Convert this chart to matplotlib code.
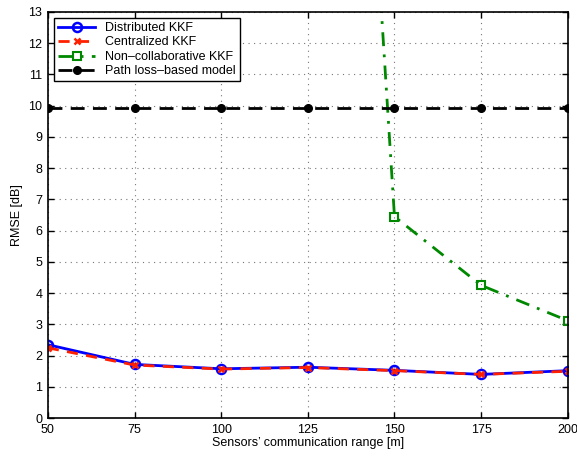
import matplotlib
matplotlib.use("Agg")
import matplotlib.pyplot as plt

# data
ranges = [50, 75, 100, 125, 150, 175, 200]
distributed = [2.35, 1.72, 1.58, 1.63, 1.53, 1.40, 1.52]
centralized = [2.25, 1.70, 1.57, 1.62, 1.52, 1.40, 1.50]
noncollab = [50.0, 6.45, 4.25, 3.12]
noncollab_x = [125, 150, 175, 200]
pathloss = [9.92] * 7

plt.rcParams['font.family'] = ['Liberation Sans', 'DejaVu Sans']
plt.rcParams['font.size'] = 9

fig = plt.figure(figsize=(5.77, 4.57), dpi=100)
ax = fig.add_axes([0.083, 0.085, 0.901, 0.889])

ax.plot(ranges, distributed, '-o', color='#0000ff', lw=2, ms=6.5,
        mfc='none', mew=1.8, label='Distributed KKF')
ax.plot(ranges, centralized, '--x', color='#ff2000', lw=2, ms=5,
        mew=1.8, dashes=(4, 3), label='Centralized KKF')
ax.plot(noncollab_x, noncollab, '-.s', color='#008800', lw=2, ms=6,
        mfc='none', mew=1.5, dashes=(5, 3, 1, 3), label='Non\u2013collaborative KKF')
ax.plot(ranges, pathloss, '--o', color='black', lw=2, ms=5.5,
        dashes=(5, 3), label='Path loss\u2013based model')

ax.set_xlim(50, 200)
ax.set_ylim(0, 13)
ax.set_xticks(ranges)
ax.set_yticks(range(0, 14))
ax.grid(True, color='#777777', linestyle=(0, (1, 4)), lw=0.8)
ax.tick_params(direction='in', length=4, top=True, right=True, width=1, pad=4)
for s in ax.spines.values():
    s.set_linewidth(1.2)

ax.set_xlabel("Sensors\u2019 communication range [m]", labelpad=1)
ax.set_ylabel('RMSE [dB]', labelpad=4)

leg = ax.legend(loc='upper left', fancybox=False, framealpha=1,
                edgecolor='black', borderpad=0.3, labelspacing=0.2,
                handlelength=3, fontsize=9)
leg.get_frame().set_linewidth(1)

fig.savefig('out.png', dpi=100)
